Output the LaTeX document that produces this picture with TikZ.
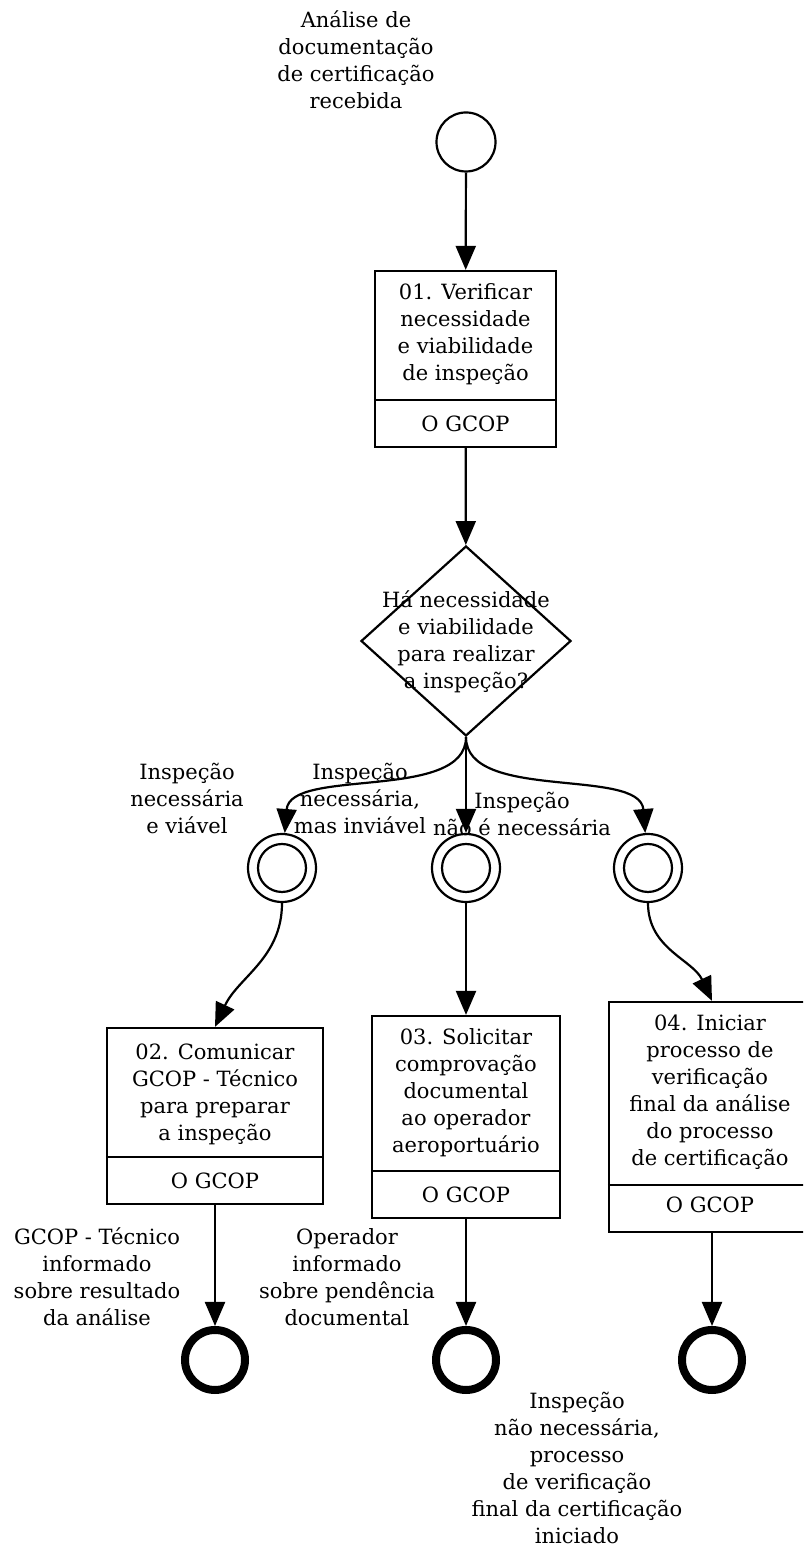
\documentclass[tikz,border=0pt]{standalone}
\usepackage{fontspec}
\setmainfont{DejaVu Serif}
\usetikzlibrary{arrows.meta,shapes.geometric}

\begin{document}
\begin{tikzpicture}[x=1pt,y=1pt,
    lbl/.style={align=center,inner sep=0pt,font=\fontsize{21}{27}\selectfont},
    task/.style={draw,line width=2.2pt,inner sep=0pt},
    ev/.style={circle,draw,line width=2.2pt,inner sep=0pt},
    flow/.style={line width=2.2pt,-{Triangle[length=24pt,width=20pt]}}]
    \useasboundingbox(0,0)rectangle(803,1547);
    \clip(0,0)rectangle(803,1547);

    % start event
    \node[lbl](startlbl)at(356,1487){Análise de\\documentação\\de certificação\\recebida};
    \node[ev,minimum size=59pt](start)at(466,1405){};

    % tasks
    \node[task,minimum width=181pt,minimum height=176pt](t1)at(465.5,1188){};
    \draw[line width=2.2pt]([yshift=48pt]t1.south west)--([yshift=48pt]t1.south east);
    \node[lbl](t1txt)at(465.5,1213){01. Verificar\\necessidade\\e viabilidade\\de inspeção};
    \node[lbl](t1role)at([yshift=24pt]t1.south){O GCOP};

    \node[task,minimum width=216pt,minimum height=176pt](t2)at(215,431){};
    \draw[line width=2.2pt]([yshift=48pt]t2.south west)--([yshift=48pt]t2.south east);
    \node[lbl](t2txt)at(215,453){02. Comunicar\\GCOP - Técnico\\para preparar\\a inspeção};
    \node[lbl](t2role)at([yshift=24pt]t2.south){O GCOP};

    \node[task,minimum width=188pt,minimum height=202pt](t3)at(466,430){};
    \draw[line width=2.2pt]([yshift=48pt]t3.south west)--([yshift=48pt]t3.south east);
    \node[lbl](t3txt)at(466,454){03. Solicitar\\comprovação\\documental\\ao operador\\aeroportuário};
    \node[lbl](t3role)at([yshift=24pt]t3.south){O GCOP};

    \node[task,minimum width=206pt,minimum height=230pt](t4)at(712,430){};
    \draw[line width=2.2pt]([yshift=48pt]t4.south west)--([yshift=48pt]t4.south east);
    \node[lbl](t4txt)at(710,455){04. Iniciar\\processo de\\verificação\\final da análise\\do processo\\de certificação};
    \node[lbl](t4role)at(710,342){O GCOP};

    % gateway
    \node[diamond,draw,line width=2.2pt,minimum width=210pt,minimum height=190pt,inner sep=0pt](gw)at(466,906){};
    \node[lbl](gwtxt)at(466,905){Há necessidade\\e viabilidade\\para realizar\\a inspeção?};

    % intermediate events
    \node[ev,minimum size=68pt](e1)at(282,679){};
    \draw[line width=2.2pt](e1)circle(24pt);
    \node[ev,minimum size=68pt](e2)at(466,679){};
    \draw[line width=2.2pt](e2)circle(24pt);
    \node[ev,minimum size=68pt](e3)at(648,679){};
    \draw[line width=2.2pt](e3)circle(24pt);

    \node[lbl](l1)at(187,748){Inspeção\\necessária\\e viável};
    \node[lbl](l2)at(360,748){Inspeção\\necessária,\\mas inviável};
    \node[lbl](l3)at(522,733){Inspeção\\não é necessária};

    % end events
    \node[ev,line width=8pt,minimum size=60pt](end1)at(215,187){};
    \node[ev,line width=8pt,minimum size=60pt](end2)at(466,187){};
    \node[ev,line width=8pt,minimum size=60pt](end3)at(712,187){};

    \node[lbl](lend1)at(97,270){GCOP - Técnico\\informado\\sobre resultado\\da análise};
    \node[lbl](lend2)at(347,270){Operador\\informado\\sobre pendência\\documental};
    \node[lbl](lend3)at(577,79){Inspeção\\não necessária,\\processo\\de verificação\\final da certificação\\iniciado};

    % flows
    \draw[flow](start)--(t1);
    \draw[flow](t1)--(gw);
    \draw[flow](gw.south)..controls(466,745)and(290,780)..(e1);
    \draw[flow](gw)--(e2);
    \draw[flow](gw.south)..controls(466,745)and(640,780)..(e3);
    \draw[flow](e1.south)to[out=-90,in=65](t2.north);
    \draw[flow](e2)--(t3);
    \draw[flow](e3.south)to[out=-90,in=115](t4.north);
    \draw[flow](t2)--(end1);
    \draw[flow](t3)--(end2);
    \draw[flow](t4.south)--(end3);
\end{tikzpicture}
\end{document}
